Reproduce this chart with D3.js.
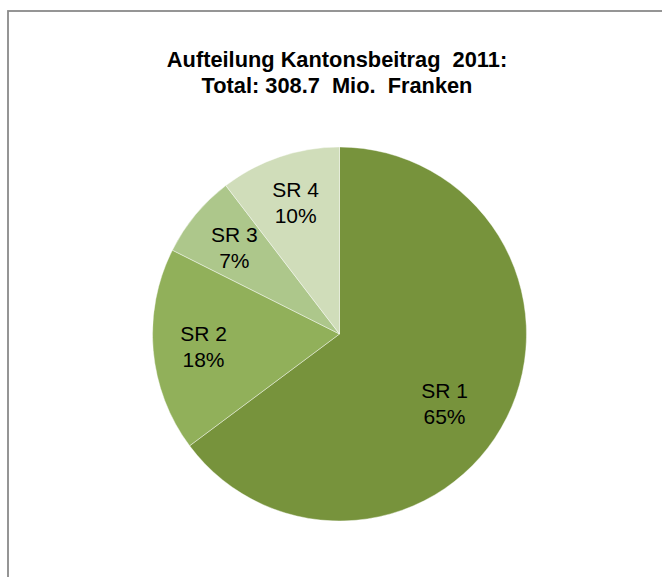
<!DOCTYPE html>
<html>
<head>
<meta charset="utf-8">
<script src="https://cdn.jsdelivr.net/npm/d3@7"></script>
<style>
  body { margin: 0; background: #fff; }
  text { font-family: "Liberation Sans", Arial, sans-serif; white-space: pre; }
</style>
</head>
<body>
<svg id="chart"></svg>
<script>

// data
var categories = ["SR 1", "SR 2", "SR 3", "SR 4"]
var shares = [64.8, 17.6, 7.2, 10.4]
var colors = ["#77933c", "#91b05a", "#adc78b", "#d0ddba"]
var titleLines = ["Aufteilung Kantonsbeitrag  2011:", "Total: 308.7  Mio.  Franken"]

var width = 662
var height = 577

var svg = d3.select('#chart')
            .attr('width', width)
            .attr('height', height)

// chart frame (right and bottom edges lie outside the picture)
svg.append('rect')
   .attr('x', 8)
   .attr('y', 11)
   .attr('width', 700)
   .attr('height', 700)
   .attr('fill', 'none')
   .attr('stroke', '#8a8a8a')
   .attr('stroke-width', 1.8)

// title
svg.append('text')
   .attr('x', 337)
   .attr('y', 67)
   .attr('text-anchor', 'middle')
   .style('font-size', '21.8px')
   .style('font-weight', 'bold')
   .selectAll('tspan')
   .data(titleLines)
   .enter()
   .append('tspan')
   .attr('x', 337)
   .attr('dy', function(d, i){ return i == 0 ? 0 : 26 })
   .text(function(d){ return d })

var cx = 339.5, cy = 334, radius = 187

var total = d3.sum(shares)
var pie = d3.pie().sort(null).value(function(d){ return d })
var arcs = pie(shares)

var arc = d3.arc().innerRadius(0).outerRadius(radius)
// label ring: centroid sits at 0.73 * radius
var labelArc = d3.arc().innerRadius(0).outerRadius(radius * 1.46)

var plot = svg.append('g')
              .attr('transform', 'translate(' + cx + ',' + cy + ')')

plot.selectAll('path')
    .data(arcs)
    .enter()
    .append('path')
    .attr('d', arc)
    .attr('fill', function(d, i){ return colors[i] })
    .attr('stroke', '#ffffff')
    .attr('stroke-width', 0.6)
    .attr('stroke-opacity', 0.7)

// Excel pulls the big slice's label in a bit
var nudge = {"SR 1": [-17, 8], "SR 4": [0, -3]}

var labels = plot.selectAll('text.lbl')
    .data(arcs)
    .enter()
    .append('text')
    .attr('class', 'lbl')
    .attr('text-anchor', 'middle')
    .style('font-size', '21px')
    .attr('transform', function(d, i){
        var c = labelArc.centroid(d)
        var n = nudge[categories[i]] || [0, 0]
        return 'translate(' + (c[0] + n[0]) + ',' + (c[1] + n[1]) + ')'
    })

labels.append('tspan')
      .attr('x', 0)
      .attr('y', -5)
      .text(function(d, i){ return categories[i] })

labels.append('tspan')
      .attr('x', 0)
      .attr('y', 21)
      .text(function(d){ return Math.round(d.value / total * 100) + '%' })

</script>
</body>
</html>
